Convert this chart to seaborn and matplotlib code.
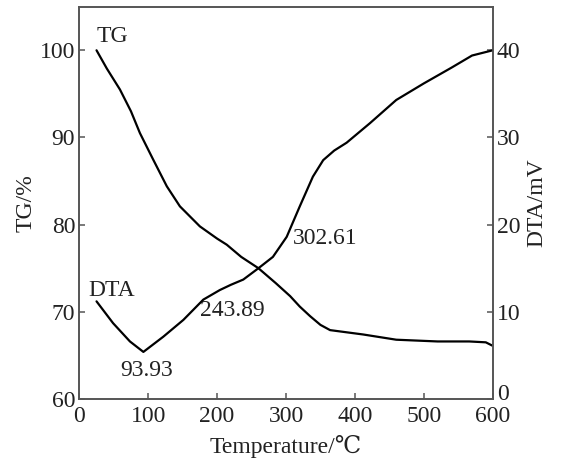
import numpy as np
import matplotlib
matplotlib.use("Agg")
import matplotlib.pyplot as plt
import matplotlib.transforms as mtransforms
import seaborn as sns

# ─── Data ─────────────────────────────────────────────────────────────────────
tg_temp = [25, 40, 59, 75, 88, 107, 127, 146, 175, 200, 214, 235, 260, 285,
           306, 320, 335, 350, 364, 412, 460, 520, 566, 590, 600]
tg_mass = [100, 97.9, 95.5, 93.0, 90.5, 87.5, 84.4, 82.1, 79.8, 78.4, 77.7,
           76.3, 75.0, 73.3, 71.8, 70.6, 69.5, 68.5, 67.9, 67.4, 66.8, 66.6,
           66.6, 66.5, 66.1]

dta_temp = [25, 49, 73.5, 93, 122, 151, 180, 204, 220, 238, 260, 281, 301,
            320, 339, 354, 370, 388, 422, 460, 500, 540, 570, 600]
dta_mv = [11.2, 8.7, 6.6, 5.4, 7.15, 9.07, 11.4, 12.5, 13.1, 13.7, 15.0, 16.3,
          18.6, 22.1, 25.5, 27.4, 28.5, 29.4, 31.65, 34.3, 36.2, 38.0, 39.4, 40.0]

x_ticks = [0, 100, 200, 300, 400, 500, 600]
tg_ticks = [60, 70, 80, 90, 100]
dta_ticks = [0, 10, 20, 30, 40]

# peak annotations: (text, temperature, TG-axis y)
peak_labels = [("93.93", 97, 63.3), ("243.89", 222, 70.2), ("302.61", 357, 78.4)]

# ─── Style ────────────────────────────────────────────────────────────────────
sns.set_style("ticks")
plt.rcParams["font.family"] = ["Liberation Serif", "DejaVu Serif", "Noto Sans CJK SC"]
plt.rcParams["font.size"] = 17
spine_c = "#555555"
text_c = "#222222"

fig = plt.figure(figsize=(5.62, 4.66), dpi=100)
ax = fig.add_axes([0.1411, 0.1438, 0.7356, 0.8418])
ax2 = ax.twinx()

sns.lineplot(x=tg_temp, y=tg_mass, ax=ax, color="black", lw=1.6)
sns.lineplot(x=dta_temp, y=dta_mv, ax=ax2, color="black", lw=1.6)

ax.set_xlim(0, 600)
ax.set_ylim(60, 105)
ax2.set_ylim(0, 45)
ax.set_xticks(x_ticks)
ax.set_yticks(tg_ticks)
ax2.set_yticks(dta_ticks)

ax.set_xlabel("Temperature/℃", color=text_c, labelpad=6)
ax.set_ylabel("TG/%", color=text_c, labelpad=2)
ax2.set_ylabel("DTA/mV", color=text_c, labelpad=4)

for a in (ax, ax2):
    for s in a.spines.values():
        s.set_color(spine_c)
        s.set_linewidth(1.2)
    a.tick_params(direction="in", length=4, width=1.1, color=spine_c,
                  labelcolor=text_c, labelsize=17, pad=3)
ax.tick_params(axis="x", pad=5)

# lift the corner "0" on the right axis a little so it clears "600"
fig.canvas.draw()
lift = mtransforms.ScaledTranslation(0, 5 / 72, fig.dpi_scale_trans)
for lab in ax2.get_yticklabels():
    if lab.get_text() == "0":
        lab.set_transform(lab.get_transform() + lift)

ax.text(25, 100.4, "TG", ha="left", va="bottom", fontsize=17, color=text_c)
ax.text(13, 72.5, "DTA", ha="left", va="center", fontsize=17, color=text_c)
for txt, t, y in peak_labels:
    ax.text(t, y, txt, ha="center", va="center", fontsize=17, color=text_c)

fig.savefig("out.png", dpi=100)
